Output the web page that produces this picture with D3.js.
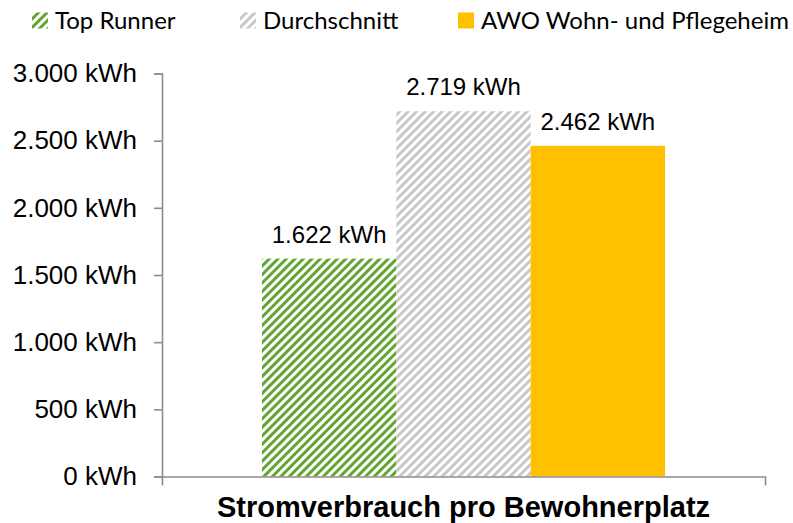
<!DOCTYPE html>
<html>
<head>
<meta charset="utf-8">
<script src="https://cdn.jsdelivr.net/npm/d3@7"></script>
<style>
  html, body { margin: 0; padding: 0; background: #fff; }
  svg { display: block; }
</style>
</head>
<body>
<script>
// chart data
var categories = ["Stromverbrauch pro Bewohnerplatz"];
var series = ["Top Runner", "Durchschnitt", "AWO Wohn- und Pflegeheim"];
var values = [1622, 2719, 2462];
var yTicks = [0, 500, 1000, 1500, 2000, 2500, 3000];

var W = 793, H = 523;
var left = 162, right = 765, top_ = 73.5, bottom = 476.5;

var fmt = d3.formatLocale({decimal: ",", thousands: ".", grouping: [3], currency: ["", " €"]}).format(",.0f");
var kwh = d => fmt(d) + " kWh";

var svg = d3.select("body").append("svg")
    .attr("width", W)
    .attr("height", H);

var defs = svg.append("defs");

function stripes(id, color) {
    var p = defs.append("pattern")
        .attr("id", id)
        .attr("patternUnits", "userSpaceOnUse")
        .attr("width", 6)
        .attr("height", 6)
        .attr("patternTransform", "rotate(45)");
    p.append("rect").attr("width", 6).attr("height", 6).attr("fill", "#fff");
    p.append("rect").attr("width", 3).attr("height", 6).attr("fill", color);
}
stripes("pat-green", "#62a532");
stripes("pat-grey", "#c8c8c8");

var fills = ["url(#pat-green)", "url(#pat-grey)", "#ffc000"];

var y = d3.scaleLinear().domain([0, 3000]).range([bottom, top_]);
var x0 = d3.scaleBand().domain(categories).range([left, right]).paddingInner(0).paddingOuter(0.248);
var x1 = d3.scaleBand().domain(series).range([0, x0.bandwidth()]);

// bars
var g = svg.append("g");
categories.forEach(function(cat) {
    g.selectAll("rect.bar")
        .data(series.map((s, i) => ({s: s, v: values[i], i: i})))
        .enter().append("rect")
        .attr("class", "bar")
        .attr("x", d => x0(cat) + x1(d.s))
        .attr("y", d => y(d.v))
        .attr("width", x1.bandwidth())
        .attr("height", d => bottom - y(d.v))
        .attr("fill", d => fills[d.i]);

    g.selectAll("text.lbl")
        .data(series.map((s, i) => ({s: s, v: values[i]})))
        .enter().append("text")
        .attr("class", "lbl")
        .attr("x", d => x0(cat) + x1(d.s) + x1.bandwidth() / 2)
        .attr("y", d => y(d.v) - 16)
        .attr("text-anchor", "middle")
        .attr("font-family", "Liberation Sans, Arial, sans-serif")
        .attr("font-size", 24)
        .attr("fill", "#000")
        .text(d => kwh(d.v));
});

// y axis
var ya = svg.append("g")
    .attr("transform", "translate(" + left + ",0)")
    .call(d3.axisLeft(y).tickValues(yTicks).tickFormat(kwh).tickSize(8).tickPadding(17));

// x axis
var xa = svg.append("g")
    .attr("transform", "translate(0," + bottom + ")")
    .call(d3.axisBottom(x0).tickSizeInner(0).tickSizeOuter(9).tickPadding(20));

[ya, xa].forEach(function(a) {
    a.selectAll("path, line").attr("stroke", "#8c8c8c").attr("stroke-width", 1.6);
    a.selectAll("text")
        .attr("font-family", "Liberation Sans, Arial, sans-serif")
        .attr("font-size", 26)
        .attr("fill", "#000");
});
xa.selectAll("text").attr("font-weight", "bold").attr("font-size", 29);

// legend
var legX = [32, 240, 458];
var leg = svg.append("g").selectAll("g")
    .data(series)
    .enter().append("g")
    .attr("transform", (d, i) => "translate(" + legX[i] + ",0)");
leg.append("rect")
    .attr("y", 12.5)
    .attr("width", 16)
    .attr("height", 16)
    .attr("fill", (d, i) => fills[i]);
leg.append("text")
    .attr("x", 23)
    .attr("y", 28.5)
    .attr("font-family", "Lato, Carlito, sans-serif")
    .attr("font-size", 24)
    .attr("fill", "#000")
    .text(d => d);
</script>
</body>
</html>
